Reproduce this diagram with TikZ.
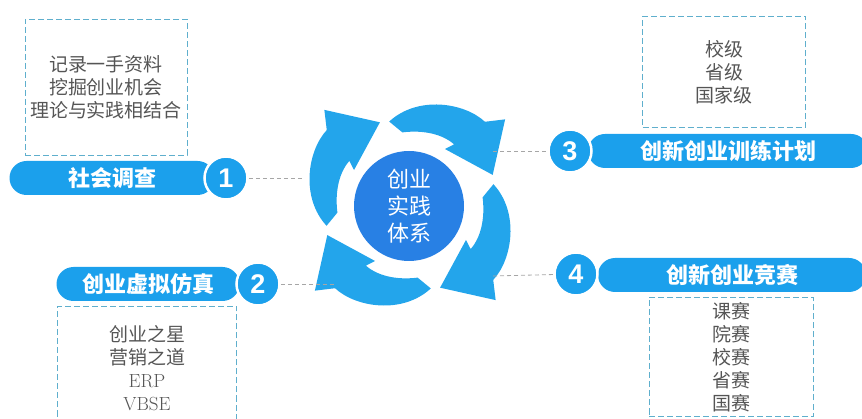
\documentclass[tikz,border=0pt]{standalone}
\usepackage{fontspec}
\newfontfamily\cjk{Noto Sans CJK SC}
\newfontfamily\numfont{Liberation Sans}
\definecolor{pillblue}{RGB}{27,160,236}
\definecolor{arrowblue}{RGB}{35,165,235}
\definecolor{coreblue}{RGB}{40,128,228}
\definecolor{boxline}{RGB}{95,175,205}
\definecolor{boxtext}{RGB}{85,85,85}

\begin{document}
\begin{tikzpicture}[x=1pt, y=-1pt,
    pill/.style={fill=pillblue, rounded corners=17pt, minimum height=34pt, inner sep=0pt,
      text=white, font=\cjk\bfseries\fontsize{22}{24}\selectfont},
    numcirc/.style={circle, fill=pillblue, draw=white, line width=2.5pt, minimum size=43pt,
      inner sep=0pt, text=white, font=\numfont\bfseries\fontsize{27}{27}\selectfont},
    dbox/.style={draw=boxline, dash pattern=on 6pt off 3pt, thick, align=center,
      inner sep=0pt, text=boxtext, font=\cjk\fontsize{19}{23}\selectfont},
    link/.style={draw=gray!70, dash pattern=on 4pt off 3pt, thick}]
    \useasboundingbox (0,0) rectangle (862,419);
    \clip (0,0) rectangle (862,419);

    % Cycle arrows
    \begin{scope}[shift={(410,205)}, yscale=-1]
        \foreach \a in {0,90,180,270}
            \fill[arrowblue, rotate=\a] (104:86) .. controls (86:110) and (62:116) .. (48:112)
                -- (42:128) -- (20:88) -- (58:66) -- (54:75)
                .. controls (68:79) and (84:75) .. (96:73) -- cycle;
    \end{scope}

    % Centre
    \node[circle, fill=coreblue, minimum size=110pt, align=center, text=white,
        font=\cjk\fontsize{22}{27}\selectfont] (core) at (409,206) {创业\\实践\\体系};

    % Dashed boxes
    \node[dbox, minimum width=162pt, minimum height=136pt] (box1) at (106,87)
        {记录一手资料\\挖掘创业机会\\理论与实践相结合};
    \node[dbox, minimum width=179pt, minimum height=123pt] (box2) at (147,368)
        {创业之星\\营销之道\\{\rmfamily ERP}\\{\rmfamily VBSE}};
    \node[dbox, minimum width=163pt, minimum height=111pt] (box3) at (724,72)
        {校级\\省级\\国家级};
    \node[dbox, minimum width=164pt, minimum height=119pt] (box4) at (731,357)
        {课赛\\院赛\\校赛\\省赛\\国赛};

    % Pills
    \node[pill, minimum width=205pt] (p1) at (112,178) {社会调查};
    \node[pill, minimum width=183pt] (p2) at (148,284) {创业虚拟仿真};
    \node[pill, minimum width=280pt] (p3) at (728,151) {创新创业训练计划};
    \node[pill, minimum width=268pt] (p4) at (732,275) {创新创业竞赛};

    % Numbers
    \node[numcirc] (n1) at (226,178) {1};
    \node[numcirc] (n2) at (258,284) {2};
    \node[numcirc] (n3) at (570,151) {3};
    \node[numcirc] (n4) at (576,274) {4};

    % Dashed links
    \coordinate (l1) at (304,178);
    \coordinate (l2) at (334,284);
    \coordinate (l3) at (493,151);
    \coordinate (l4) at (493,276);
    \draw[link] (n1) -- (l1);
    \draw[link] (n2) -- (l2);
    \draw[link] (l3) -- (n3);
    \draw[link] (l4) -- (n4);
\end{tikzpicture}
\end{document}
